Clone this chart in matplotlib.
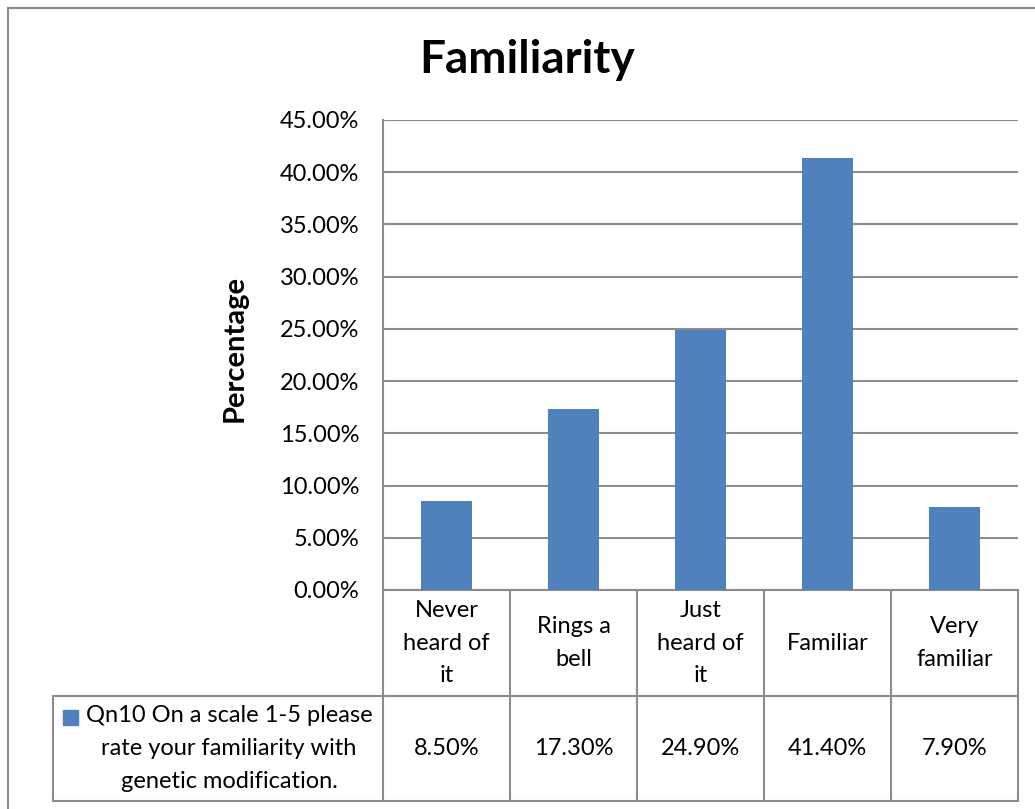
import matplotlib.pyplot as plt
import matplotlib.transforms as mtransforms
from matplotlib.patches import Rectangle
from matplotlib.lines import Line2D

plt.rcParams['font.family'] = ['Lato', 'DejaVu Sans']

# data
categories = ['Never\nheard of\nit', 'Rings a\nbell', 'Just\nheard of\nit', 'Familiar', 'Very\nfamiliar']
values = [8.5, 17.3, 24.9, 41.4, 7.9]
series_name = 'Qn10 On a scale 1-5 please\nrate your familiarity with\ngenetic modification.'
yticks = [0, 5, 10, 15, 20, 25, 30, 35, 40, 45]

BAR = '#4F81BD'
GRID = '#8C8C8C'
W, H = 1035, 809
FS = 17
LS = 1.68

fig = plt.figure(figsize=(W / 100, H / 100), dpi=100)

# outer chart border (right/bottom edges fall outside the picture)
fig.add_artist(Line2D([8 / W, 8 / W], [0, 1 - 8 / H], color=GRID, lw=1.5))
fig.add_artist(Line2D([8 / W, 1], [1 - 8 / H, 1 - 8 / H], color=GRID, lw=1.5))

left, right, top, bottom = 383, 1018, 120, 590
ax = fig.add_axes([left / W, 1 - bottom / H, (right - left) / W, (bottom - top) / H])

x = range(len(values))
ax.bar(x, values, width=0.4, color=BAR, zorder=3)
ax.set_xlim(-0.5, len(values) - 0.5)
ax.set_ylim(0, 45)
ax.set_yticks(yticks)
ax.set_yticklabels(['%.2f%%' % t for t in yticks], fontsize=FS)
ax.set_xticks([])
ax.tick_params(axis='y', length=0, pad=17)
ax.grid(axis='y', color=GRID, lw=1.5, zorder=0)
for s in ['top', 'right', 'bottom']:
    ax.spines[s].set_visible(False)
ax.spines['left'].set_color(GRID)
ax.spines['left'].set_linewidth(1.5)

fig.text(235 / W, 1 - 348 / H, 'Percentage', rotation=90, ha='center', va='center',
         fontsize=21, fontweight='bold')
fig.text(527 / W, 1 - 60 / H, 'Familiarity', ha='center', va='center',
         fontsize=33, fontweight='bold')

# data table below the axes
trans = mtransforms.blended_transform_factory(ax.transData, ax.transAxes)
ph = bottom - top
r1 = -(696 - bottom) / ph
r2 = -(801 - bottom) / ph
x0 = -0.5
xn = len(values) - 0.5
colw = (right - left) / len(values)
leg_left = x0 - (left - 53) / colw

def hline(xa, xb, y):
    ax.add_line(Line2D([xa, xb], [y, y], transform=trans, color=GRID, lw=1.5, clip_on=False))

def vline(xx, ya, yb):
    ax.add_line(Line2D([xx, xx], [ya, yb], transform=trans, color=GRID, lw=1.5, clip_on=False))

hline(x0, xn, 0)
hline(leg_left, xn, r1)
hline(leg_left, xn, r2)
for i in range(len(values) + 1):
    vline(x0 + i, 0, r2)
vline(leg_left, r1, r2)

for i, (c, v) in enumerate(zip(categories, values)):
    ax.text(i, r1 / 2, c, transform=trans, ha='center', va='center',
            fontsize=FS, linespacing=LS)
    ax.text(i, (r1 + r2) / 2, '%.2f%%' % v, transform=trans, ha='center',
            va='center', fontsize=FS)

mid_leg = x0 - (left - 229) / colw
ax.text(mid_leg, (r1 + r2) / 2, series_name, transform=trans, ha='center',
        va='center', fontsize=FS, linespacing=LS)
sq_x = x0 - (left - 63) / colw
ax.add_patch(Rectangle((sq_x, -(725 - bottom) / ph), 15 / colw, 15 / ph,
                       transform=trans, color=BAR, clip_on=False))

fig.savefig('out.png', dpi=100)
